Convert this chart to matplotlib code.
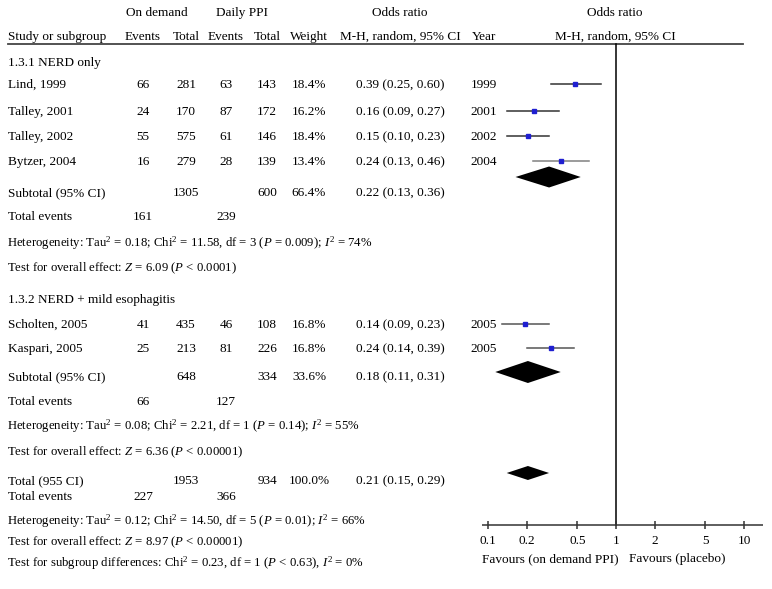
import numpy as np
import matplotlib
matplotlib.use("Agg")
import matplotlib.pyplot as plt

plt.rcParams['font.family'] = ['Liberation Serif', 'DejaVu Serif']
plt.rcParams['mathtext.fontset'] = 'custom'
plt.rcParams['mathtext.rm'] = 'Liberation Serif'
plt.rcParams['mathtext.it'] = 'Liberation Serif:italic'

# table data
studies = ["Lind, 1999", "Talley, 2001", "Talley, 2002", "Bytzer, 2004",
           "Scholten, 2005", "Kaspari, 2005"]
od_events = [66, 24, 55, 16, 41, 25]
od_total = [281, 170, 575, 279, 435, 213]
pd_events = [63, 87, 61, 28, 46, 81]
pd_total = [143, 172, 146, 139, 108, 226]
weights = ["18.4%", "16.2%", "18.4%", "13.4%", "16.8%", "16.8%"]
or_text = ["0.39 (0.25, 0.60)", "0.16 (0.09, 0.27)", "0.15 (0.10, 0.23)",
           "0.24 (0.13, 0.46)", "0.14 (0.09, 0.23)", "0.24 (0.14, 0.39)"]
years = ["1999", "2001", "2002", "2004", "2005", "2005"]

# plotted positions
pt_or = [0.48, 0.23, 0.205, 0.37, 0.194, 0.31]
pt_lo = [0.31, 0.14, 0.14, 0.225, 0.129, 0.20]
pt_hi = [0.76, 0.36, 0.30, 0.62, 0.30, 0.47]
line_col = ['#333333', '#333333', '#333333', '#808080', '#555555', '#555555']

# diamonds: subtotal 1, subtotal 2, total
dia_mid = [0.30, 0.205, 0.205]
dia_lo = [0.164, 0.114, 0.14]
dia_hi = [0.53, 0.37, 0.30]

ticks = [0.1, 0.2, 0.5, 1, 2, 5, 10]
tick_labels = ["0.1", "0.2", "0.5", "1", "2", "5", "10"]

W, H = 772, 589
fig = plt.figure(figsize=(W / 100, H / 100), dpi=100)
ax = fig.add_axes([0, 0, 1, 1])
ax.set_xlim(0, W)
ax.set_ylim(H, 0)
ax.axis('off')

fs = 9.5
def txt(x, y, s, ha='left', size=fs):
    ax.text(x, y, s, ha=ha, va='center', fontsize=size, color='black')

def stat(y, s):
    txt(7, y, s, size=9.2)

# column centers
c_ev1, c_to1, c_ev2, c_to2, c_w, c_or, c_yr = 143, 186, 226, 267, 309, 400, 484

txt(157, 13, "On demand", 'center')
txt(242, 13, "Daily PPI", 'center')
txt(400, 13, "Odds ratio", 'center')
txt(615, 13, "Odds ratio", 'center')
txt(8, 37, "Study or subgroup")
for x, s in [(c_ev1, "Events"), (c_to1, "Total"), (c_ev2, "Events"),
             (c_to2, "Total"), (c_w, "Weight"), (c_or, "M-H, random, 95% CI"),
             (c_yr, "Year"), (615, "M-H, random, 95% CI")]:
    txt(x, 37, s, 'center')
ax.plot([8, 743], [44, 44], color='#444444', lw=1.3)

study_y = [85, 112, 137, 162, 325, 349]
for i in range(len(studies)):
    y = study_y[i]
    txt(8, y, studies[i])
    txt(c_ev1, y, str(od_events[i]), 'center')
    txt(c_to1, y, str(od_total[i]), 'center')
    txt(c_ev2, y, str(pd_events[i]), 'center')
    txt(c_to2, y, str(pd_total[i]), 'center')
    txt(c_w, y, weights[i], 'center')
    txt(c_or, y, or_text[i], 'center')
    txt(c_yr, y, years[i], 'center')

txt(8, 63, "1.3.1 NERD only")
txt(8, 193, "Subtotal (95% CI)")
txt(c_to1, 193, "1305", 'center'); txt(c_to2, 193, "600", 'center')
txt(c_w, 193, "66.4%", 'center'); txt(c_or, 193, "0.22 (0.13, 0.36)", 'center')
txt(8, 217, "Total events")
txt(c_ev1, 217, "161", 'center'); txt(c_ev2, 217, "239", 'center')
stat(243, "Heterogeneity: Tau$^2$ = 0.18; Chi$^2$ = 11.58, df = 3 ($P$ = 0.009); $I^2$ = 74%")
stat(268, "Test for overall effect: $Z$ = 6.09 ($P$ < 0.0001)")

txt(8, 300, "1.3.2 NERD + mild esophagitis")
txt(8, 377, "Subtotal (95% CI)")
txt(c_to1, 377, "648", 'center'); txt(c_to2, 377, "334", 'center')
txt(c_w, 377, "33.6%", 'center'); txt(c_or, 377, "0.18 (0.11, 0.31)", 'center')
txt(8, 402, "Total events")
txt(c_ev1, 402, "66", 'center'); txt(c_ev2, 402, "127", 'center')
stat(426, "Heterogeneity: Tau$^2$ = 0.08; Chi$^2$ = 2.21, df = 1 ($P$ = 0.14); $I^2$ = 55%")
stat(452, "Test for overall effect: $Z$ = 6.36 ($P$ < 0.00001)")

txt(8, 481, "Total (955 CI)")
txt(c_to1, 481, "1953", 'center'); txt(c_to2, 481, "934", 'center')
txt(c_w, 481, "100.0%", 'center'); txt(c_or, 481, "0.21 (0.15, 0.29)", 'center')
txt(8, 497, "Total events")
txt(c_ev1, 497, "227", 'center'); txt(c_ev2, 497, "366", 'center')
stat(521, "Heterogeneity: Tau$^2$ = 0.12; Chi$^2$ = 14.50, df = 5 ($P$ = 0.01); $I^2$ = 66%")
stat(542, "Test for overall effect: $Z$ = 8.97 ($P$ < 0.00001)")
stat(563, "Test for subgroup differences: Chi$^2$ = 0.23, df = 1 ($P$ < 0.63), $I^2$ = 0%")

# forest panel on log scale
x0, x1, px_dec, x_one = 482, 763, 128, 616
fx = fig.add_axes([x0 / W, 0, (x1 - x0) / W, 1])
fx.set_xscale('log')
fx.set_xlim(10 ** ((x0 - x_one) / px_dec), 10 ** ((x1 - x_one) / px_dec))
fx.set_ylim(H, 0)
fx.axis('off')

for i in range(len(studies)):
    y = study_y[i] - 1
    fx.plot([pt_lo[i], pt_hi[i]], [y, y], color=line_col[i], lw=1.1)
    fx.plot(pt_or[i], y, marker='s', ms=3, color='#1f1fd0', mec='#1f1fd0')

dia_y = [177, 372, 473]
dia_h = [10.5, 11, 7]
for i in range(3):
    fx.fill([dia_lo[i], dia_mid[i], dia_hi[i], dia_mid[i]],
            [dia_y[i], dia_y[i] - dia_h[i], dia_y[i], dia_y[i] + dia_h[i]],
            color='black', lw=0)

axis_y = 525
fx.plot([1, 1], [44, axis_y], color='black', lw=1.1)
fx.plot(fx.get_xlim(), [axis_y, axis_y], color='#333333', lw=1.1)
fx.vlines(ticks, axis_y - 4, axis_y + 4, color='#333333', lw=1.1)
for t, lab in zip(ticks, tick_labels):
    fx.text(t, 541, lab, ha='center', va='center', fontsize=fs)
fx.text(10 ** ((482 - x_one) / px_dec), 559, "Favours (on demand PPI)",
        ha='left', va='center', fontsize=fs)
fx.text(10 ** ((629 - x_one) / px_dec), 559, "Favours (placebo)",
        ha='left', va='center', fontsize=fs)

fig.savefig("out.png", dpi=100)
